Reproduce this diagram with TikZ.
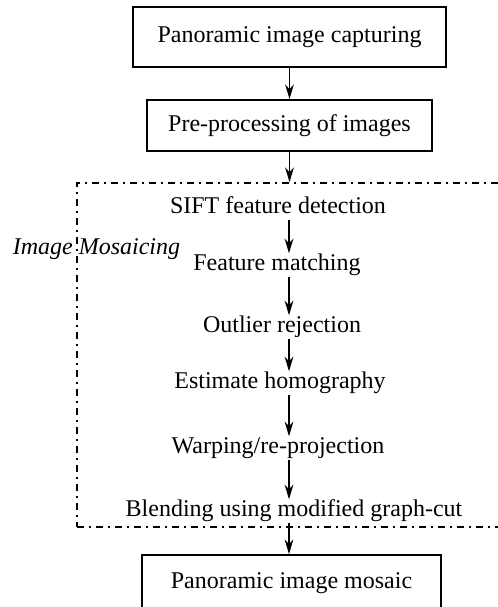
\documentclass[tikz,border=0pt]{standalone}
\usepackage{fontspec}
\setmainfont{Liberation Serif}
\usetikzlibrary{arrows.meta}
\begin{document}
\begin{tikzpicture}[x=0.75pt, y=-0.75pt]
        \tikzset{box/.style = {draw, line width=1.3pt, inner sep=0pt, font=\fontsize{18}{21}\selectfont},
                 stage/.style = {inner sep=0pt, text height=12.6pt, text depth=4.5pt, font=\fontsize{18}{21}\selectfont},
                 frame/.style = {draw, line width=1.2pt, dash pattern=on 5.25pt off 3.75pt on 1.5pt off 3.75pt, inner sep=0pt},
                 flow/.style = {line width=1.4pt, -{Stealth[length=11pt, width=6.5pt, inset=3.5pt]}}}

        \useasboundingbox (0, 0) rectangle (497, 607);

        \node[box, minimum width=234.75pt, minimum height=45pt] (capture) at (289.5, 37) {Panoramic image capturing};
        \node[box, minimum width=213.75pt, minimum height=38.25pt] (preproc) at (289.5, 125.5) {Pre-processing of images};

        \node[frame, minimum width=321pt, minimum height=258pt] (mosaic) at (291, 355) {};
        \node[stage, font=\fontsize{18}{21}\selectfont\itshape] (label) at (96.5, 249) {Image Mosaicing};

        \node[stage] (sift) at (278, 208) {SIFT feature detection};
        \node[stage] (match) at (277, 265) {Feature matching};
        \node[stage] (outlier) at (282, 327) {Outlier rejection};
        \node[stage] (homog) at (280, 383) {Estimate homography};
        \node[stage] (warp) at (278, 448) {Warping/re-projection};
        \node[stage] (blend) at (294, 511) {Blending using modified graph-cut};

        \node[box, minimum width=224.25pt, minimum height=42pt] (result) at (291.5, 583) {Panoramic image mosaic};

        \coordinate (ax) at (289, 0);

        \draw[flow] (capture) -- (preproc);
        \draw[flow] (preproc.south) -- (preproc.south |- mosaic.north);

        \draw[flow] (sift.south -| ax) -- (match.north -| ax);
        \draw[flow] (match.south -| ax) -- (outlier.north -| ax);
        \draw[flow] (outlier.south -| ax) -- (homog.north -| ax);
        \draw[flow] (homog.south -| ax) -- (warp.north -| ax);
        \draw[flow] (warp.south -| ax) -- (blend.north -| ax);
        \draw[flow] (blend.south -| ax) -- (result.north -| ax);

    \end{tikzpicture}
\end{document}
